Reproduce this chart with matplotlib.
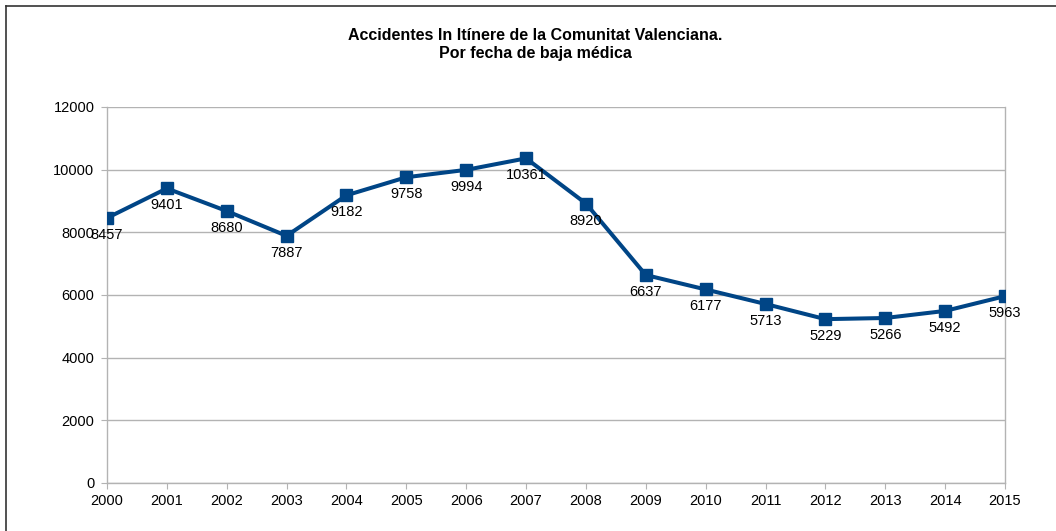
import matplotlib
matplotlib.use("Agg")
import matplotlib.pyplot as plt
from matplotlib.lines import Line2D

plt.rcParams['font.family'] = ['Liberation Sans', 'DejaVu Sans']

# Data
years = [2000, 2001, 2002, 2003, 2004, 2005, 2006, 2007,
         2008, 2009, 2010, 2011, 2012, 2013, 2014, 2015]
accidents = [8457, 9401, 8680, 7887, 9182, 9758, 9994, 10361,
             8920, 6637, 6177, 5713, 5229, 5266, 5492, 5963]
y_ticks = [0, 2000, 4000, 6000, 8000, 10000, 12000]

title = "Accidentes In Itínere de la Comunitat Valenciana.\nPor fecha de baja médica"

blue = "#004586"
gray = "#b3b3b3"

fig = plt.figure(figsize=(10.56, 5.31), dpi=100)
ax = fig.add_axes([0.1013, 0.0904, 0.8504, 0.7081])

ax.plot(years, accidents, color=blue, linewidth=2.9, marker="s",
        markersize=8.5, markerfacecolor=blue, markeredgecolor=blue, zorder=3)

# data labels under each point
for x, y in zip(years, accidents):
    ax.annotate(str(y), (x, y), xytext=(0, -17), textcoords="offset pixels",
                ha="center", va="center", fontsize=10.5, color="black", zorder=4)

ax.set_xlim(2000, 2015)
ax.set_ylim(0, 12000)
ax.set_xticks(years)
ax.set_yticks(y_ticks)
ax.grid(axis="y", color=gray, linewidth=1)
ax.set_axisbelow(True)

for side in ["top", "right", "left", "bottom"]:
    ax.spines[side].set_color(gray)
    ax.spines[side].set_linewidth(1)
ax.spines["top"].set_visible(False)

ax.tick_params(axis="both", direction="out", length=4, color=gray,
               labelsize=10.5, labelcolor="black")
ax.tick_params(axis="x", pad=4)
ax.tick_params(axis="y", pad=5)

fig.text(0.507, 0.916, title, ha="center", va="center", fontsize=11.5,
         fontweight="bold", linespacing=1.2)

# outer frame (only top and left edges visible in the reference)
fig.add_artist(Line2D([6 / 1056, 1], [1 - 6 / 531, 1 - 6 / 531],
                      transform=fig.transFigure, color="#333333", linewidth=1.2))
fig.add_artist(Line2D([6 / 1056, 6 / 1056], [0, 1 - 6 / 531],
                      transform=fig.transFigure, color="#333333", linewidth=1.2))

fig.savefig("out.png", dpi=100)
